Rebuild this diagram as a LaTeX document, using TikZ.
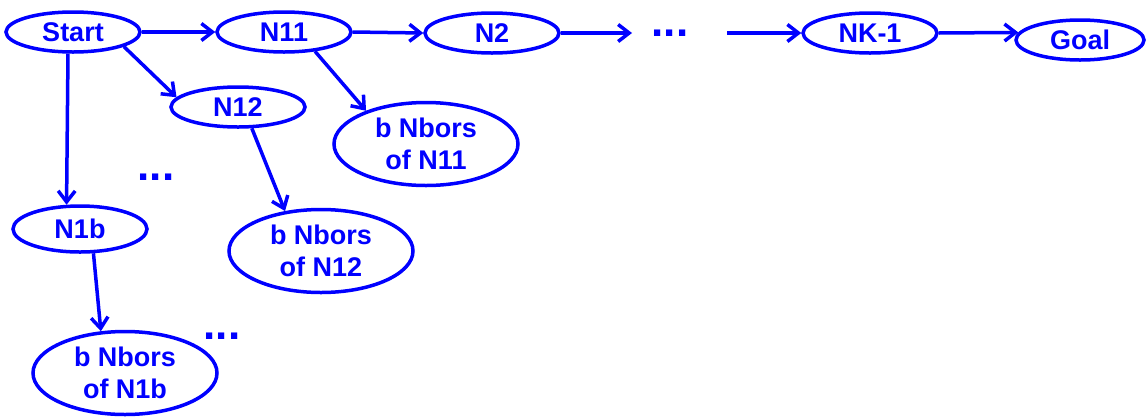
\documentclass[tikz,border=0pt]{standalone}
\usepackage{fontspec}
\setmainfont{Liberation Sans}
\usetikzlibrary{shapes.geometric,arrows.meta}
\definecolor{nblue}{RGB}{0,0,255}
\tikzset{
  el/.style={ellipse, draw=nblue, line width=3.5pt, inner sep=0pt, text=nblue,
    font=\fontsize{27}{32}\selectfont\bfseries, align=center},
  small/.style={el, minimum width=134pt, minimum height=40pt},
  big/.style={el, minimum width=184pt, minimum height=83pt},
  arr/.style={draw=nblue, line width=3.5pt, -{Straight Barb[length=11pt,width=17pt]}},
  dots/.style={text=nblue, font=\fontsize{44}{44}\selectfont\bfseries, inner sep=0pt,
    text height=6pt, text depth=0pt}
}
\begin{document}
\begin{tikzpicture}[x=1pt,y=-1pt]
\useasboundingbox (0,0) rectangle (1147,416);
\node[small] (start) at (73,32) {Start};
\node[small] (n11) at (284,32) {N11};
\node[small] (n2) at (492,33) {N2};
\node[dots] (d1) at (670,33) {...};
\node[small] (nk) at (870,33) {NK-1};
\node[small, minimum width=128pt] (goal) at (1080,40) {Goal};
\node[small] (n12) at (238,107) {N12};
\node[big] (b11) at (426,144) {b Nbors\\of N11};
\node[dots] (d2) at (156,177) {...};
\node[small, minimum height=46pt] (n1b) at (80,229) {N1b};
\node[big] (b12) at (321,251) {b Nbors\\of N12};
\node[dots] (d3) at (222,336) {...};
\node[big] (b1b) at (125,373) {b Nbors\\of N1b};
\coordinate (c1) at (632,33);
\coordinate (c2) at (727,33);
\draw[arr] (start.east) -- (n11.west);
\draw[arr] (n11.east) -- (n2.west);
\draw[arr] (n2.east) -- (c1);
\draw[arr] (c2) -- (nk.west);
\draw[arr] (nk.east) -- (goal.173);
\draw[arr] (start.-16) -- (n12.171);
\draw[arr] (n11.-32) -- (b11.151);
\draw[arr] (start.257) -- (n1b.119);
\draw[arr] (n1b.-61) -- (b1b.120);
\draw[arr] (n12.-57) -- (b12.132);
\end{tikzpicture}
\end{document}
